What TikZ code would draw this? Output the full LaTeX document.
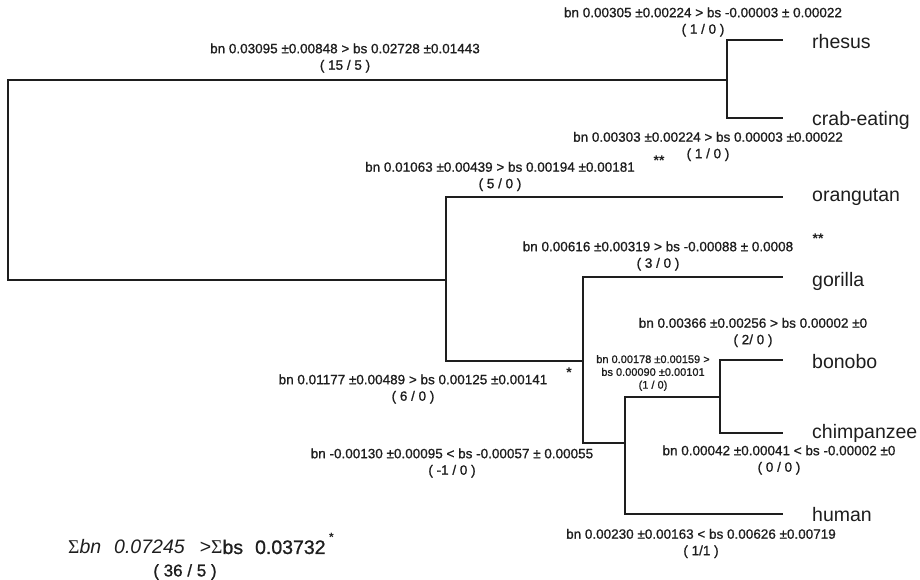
\documentclass[tikz,border=0pt]{standalone}
\usepackage{fontspec}
\setmainfont{Liberation Sans}
\newfontfamily\labfont[FakeBold=0.9]{Liberation Sans}
\newfontfamily\sigfont{Liberation Serif}
\definecolor{inkc}{HTML}{1E1E1E}
\begin{document}
\begin{tikzpicture}[x=1pt,y=-1pt,
  branch/.style={line width=2.3pt, draw=inkc, line join=miter, line cap=rect},
  lab/.style={font=\labfont\fontsize{13.5}{16.5}\selectfont, text=inkc, align=center, inner sep=0pt},
  smalllab/.style={font=\labfont\fontsize{11}{12.8}\selectfont, text=inkc, align=center, inner sep=0pt},
  taxon/.style={font=\fontsize{19.5}{22}\selectfont, text=inkc, anchor=west, inner sep=0pt},
  starmark/.style={font=\fontsize{14}{14}\selectfont\bfseries, text=inkc, inner sep=0pt}]
\useasboundingbox (0,0) rectangle (920,580);
\fill[white] (0,0) rectangle (920,580);

% internal nodes
\coordinate (root) at (8,180);
\coordinate (mac) at (727,80);
\coordinate (ape) at (446,280);
\coordinate (afr) at (583,361);
\coordinate (hp) at (625,443);
\coordinate (pan) at (720,397);
% tips
\coordinate (rhe) at (782,40);
\coordinate (cra) at (782,118);
\coordinate (ora) at (782,197);
\coordinate (gor) at (782,277);
\coordinate (bon) at (782,360);
\coordinate (chi) at (782,433);
\coordinate (hum) at (782,514);

% branches
\draw[branch] (mac) -- (root |- mac) -- (root |- ape) -- (ape);
\draw[branch] (rhe) -- (mac |- rhe) -- (mac |- cra) -- (cra);
\draw[branch] (ora) -- (ape |- ora) -- (ape |- afr) -- (afr);
\draw[branch] (gor) -- (afr |- gor) -- (afr |- hp) -- (hp);
\draw[branch] (pan) -- (hp |- pan) -- (hp |- hum) -- (hum);
\draw[branch] (bon) -- (pan |- bon) -- (pan |- chi) -- (chi);

% taxon names
\node[taxon] (trhe) at (812,42) {rhesus};
\node[taxon] (tcra) at (812,120) {crab-eating};
\node[taxon] (tora) at (812,197) {orangutan};
\node[taxon] (tgor) at (812,281) {gorilla};
\node[taxon] (tbon) at (812,362) {bonobo};
\node[taxon] (tchi) at (812,433) {chimpanzee};
\node[taxon] (thum) at (812,515) {human};

% branch labels
\node[lab] (lA) at (345,58) {bn 0.03095 ±0.00848 > bs 0.02728 ±0.01443\\( 15 / 5 )};
\node[lab] (lrhe) at (703,22) {bn 0.00305 ±0.00224 > bs -0.00003 ± 0.00022\\( 1 / 0 )};
\node[lab] (lcra) at (708,146.5) {bn 0.00303 ±0.00224 > bs 0.00003 ±0.00022\\( 1 / 0 )};
\node[lab] (lora) at (500,176.5) {bn 0.01063 ±0.00439 > bs 0.00194 ±0.00181\\( 5 / 0 )};
\node[lab] (lgor) at (658,256) {bn 0.00616 ±0.00319 > bs -0.00088 ± 0.0008\\( 3 / 0 )};
\node[lab] (lbon) at (753,332.5) {bn 0.00366 ±0.00256 > bs 0.00002 ±0\\( 2/ 0 )};
\node[smalllab] (lpan) at (653,373) {bn 0.00178 ±0.00159 >\\bs 0.00090 ±0.00101\\(1 / 0)};
\node[lab] (lafr) at (413,389) {bn 0.01177 ±0.00489 > bs 0.00125 ±0.00141\\( 6 / 0 )};
\node[lab] (lchi) at (779,460) {bn 0.00042 ±0.00041 < bs -0.00002 ±0\\( 0 / 0 )};
\node[lab] (lhp) at (452,463) {bn -0.00130 ±0.00095 < bs -0.00057 ± 0.00055\\( -1 / 0 )};
\node[lab] (lhum) at (701,543.5) {bn 0.00230 ±0.00163 < bs 0.00626 ±0.00719\\( 1/1 )};

% significance marks
\node[starmark] (s1) at (659,161) {**};
\node[starmark] (s2) at (818,239) {**};
\node[starmark] (s3) at (569,373) {*};

% total
\node[text=inkc, anchor=west, inner sep=0pt, font=\fontsize{19.5}{22}\selectfont] (sum) at (68,547)
  {{\sigfont Σ}\textit{bn\hspace{13pt}0.07245}\hspace{15pt}>{\sigfont Σ}\labfont bs\hspace{12pt}0.03732};
\node[starmark, font=\fontsize{12}{12}\selectfont\bfseries, anchor=west] (s4) at ([xshift=3pt,yshift=2pt]sum.north east) {*};
\node[text=inkc, inner sep=0pt, font=\labfont\fontsize{17}{19}\selectfont] (sumn) at (185,572) {( 36 / 5 )};
\end{tikzpicture}
\end{document}
